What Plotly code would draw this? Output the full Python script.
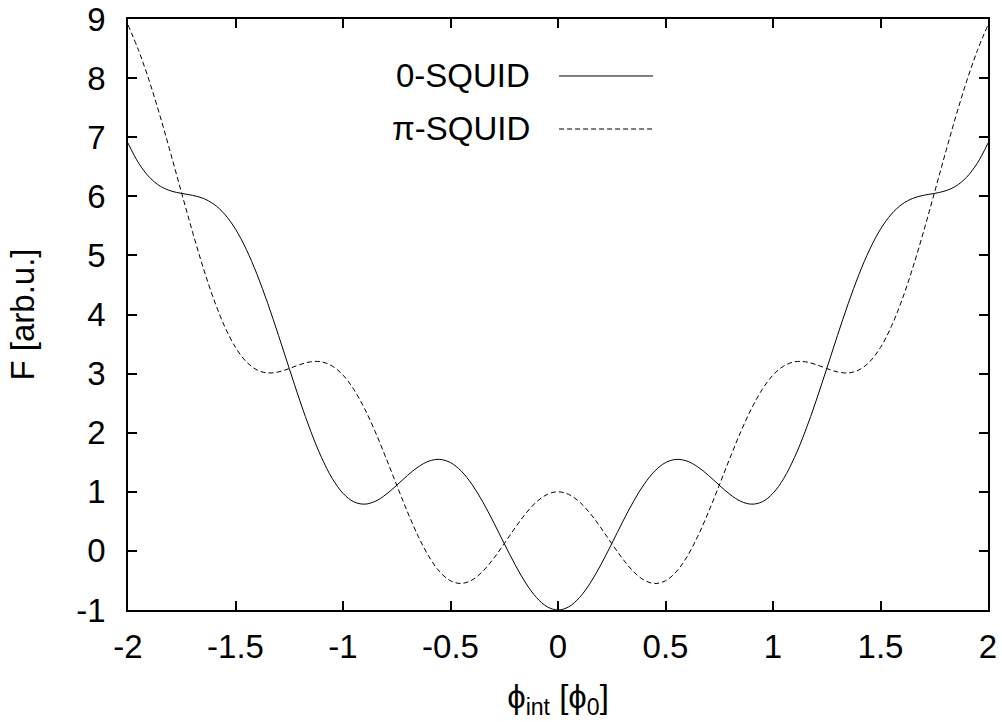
import plotly.graph_objects as go

phi = [-2.0, -1.95, -1.9, -1.85, -1.8, -1.75, -1.7, -1.65, -1.6, -1.55, -1.5, -1.45, -1.4, -1.35, -1.3,
       -1.25, -1.2, -1.15, -1.1, -1.05, -1.0, -0.95, -0.9, -0.85, -0.8, -0.75, -0.7, -0.65, -0.6, -0.55,
       -0.5, -0.45, -0.4, -0.35, -0.3, -0.25, -0.2, -0.15, -0.1, -0.05, 0.0,
       0.05, 0.1, 0.15, 0.2, 0.25, 0.3, 0.35, 0.4, 0.45, 0.5, 0.55, 0.6, 0.65, 0.7, 0.75, 0.8, 0.85, 0.9,
       0.95, 1.0, 1.05, 1.1, 1.15, 1.2, 1.25, 1.3, 1.35, 1.4, 1.45, 1.5, 1.55, 1.6, 1.65, 1.7, 1.75, 1.8,
       1.85, 1.9, 1.95, 2.0]

f_zero = [6.900, 6.559, 6.321, 6.171, 6.090, 6.048, 6.017, 5.965, 5.865, 5.696, 5.444, 5.103, 4.680, 4.187,
          3.647, 3.086, 2.535, 2.024, 1.581, 1.226, 0.975, 0.831, 0.791, 0.839, 0.955, 1.111, 1.277, 1.422,
          1.520, 1.548, 1.494, 1.351, 1.125, 0.830, 0.487, 0.123, -0.230, -0.544, -0.789, -0.946, -1.000,
          -0.946, -0.789, -0.544, -0.230, 0.123, 0.487, 0.830, 1.125, 1.351, 1.494, 1.548, 1.520, 1.422,
          1.277, 1.111, 0.955, 0.839, 0.791, 0.831, 0.975, 1.226, 1.581, 2.024, 2.535, 3.086, 3.647, 4.187,
          4.680, 5.103, 5.444, 5.696, 5.865, 5.965, 6.017, 6.048, 6.090, 6.171, 6.321, 6.559, 6.900]

f_pi = [8.900, 8.461, 7.939, 7.347, 6.708, 6.048, 5.399, 4.789, 4.247, 3.794, 3.444, 3.201, 3.062, 3.011,
        3.029, 3.086, 3.153, 3.200, 3.199, 3.128, 2.975, 2.733, 2.409, 2.015, 1.573, 1.111, 0.659, 0.246,
        -0.098, -0.354, -0.506, -0.551, -0.493, -0.346, -0.131, 0.123, 0.388, 0.632, 0.829, 0.956, 1.000,
        0.956, 0.829, 0.632, 0.388, 0.123, -0.131, -0.346, -0.493, -0.551, -0.506, -0.354, -0.098, 0.246,
        0.659, 1.111, 1.573, 2.015, 2.409, 2.733, 2.975, 3.128, 3.199, 3.200, 3.153, 3.086, 3.029, 3.011,
        3.062, 3.201, 3.444, 3.794, 4.247, 4.789, 5.399, 6.048, 6.708, 7.347, 7.939, 8.461, 8.900]

x_ticks = [-2, -1.5, -1, -0.5, 0, 0.5, 1, 1.5, 2]
x_labels = ["-2", "-1.5", "-1", "-0.5", "0", "0.5", "1", "1.5", "2"]
y_ticks = [-1, 0, 1, 2, 3, 4, 5, 6, 7, 8, 9]
y_labels = ["-1", "0", "1", "2", "3", "4", "5", "6", "7", "8", "9"]

FONT = "Liberation Sans, Arial, sans-serif"
FS = 33

fig = go.Figure()
fig.add_trace(go.Scatter(x=phi, y=f_zero, mode="lines", name="0-SQUID",
                         line=dict(color="black", width=1, shape="spline")))
fig.add_trace(go.Scatter(x=phi, y=f_pi, mode="lines", name="π-SQUID",
                         line=dict(color="black", width=1, dash="5px,3px", shape="spline")))

axis_common = dict(showgrid=False, zeroline=False, showline=True, linecolor="black", linewidth=1.5,
                   mirror="allticks", ticks="inside", ticklen=9, tickwidth=1.5, tickcolor="black",
                   ticklabeloverflow="allow",
                   tickfont=dict(family=FONT, size=FS, color="black"))

fig.update_xaxes(range=[-2, 2], tickvals=x_ticks, ticktext=x_labels, ticklabelstandoff=7,
                 title=dict(text="ϕ<sub>int</sub> [ϕ<sub>0</sub>]", font=dict(family=FONT, size=FS, color="black"),
                            standoff=21), **axis_common)
fig.update_yaxes(range=[-1, 9], tickvals=y_ticks, ticktext=y_labels, ticklabelstandoff=14,
                 title=dict(text="F [arb.u.]", font=dict(family=FONT, size=FS, color="black"),
                            standoff=32), **axis_common)

# gnuplot-style key: text right-aligned, sample line to the right
key_items = [("0-SQUID", 0.9036, "solid"), ("π-SQUID", 0.8139, "5px,3px")]
for label, ypos, dash in key_items:
    fig.add_annotation(xref="paper", yref="paper", x=0.4698, y=ypos, text=label, showarrow=False,
                       xanchor="right", yanchor="middle", font=dict(family=FONT, size=FS, color="black"))
    fig.add_shape(type="line", xref="paper", yref="paper", x0=0.5012, x1=0.6105, y0=ypos, y1=ypos,
                  line=dict(color="black", width=1, dash=dash))

fig.update_layout(width=1002, height=722, margin=dict(l=128, r=14, t=19, b=112, autoexpand=False),
                  plot_bgcolor="white", paper_bgcolor="white", showlegend=False,
                  font=dict(family=FONT, size=FS, color="black"))

fig.write_html("out.html")
